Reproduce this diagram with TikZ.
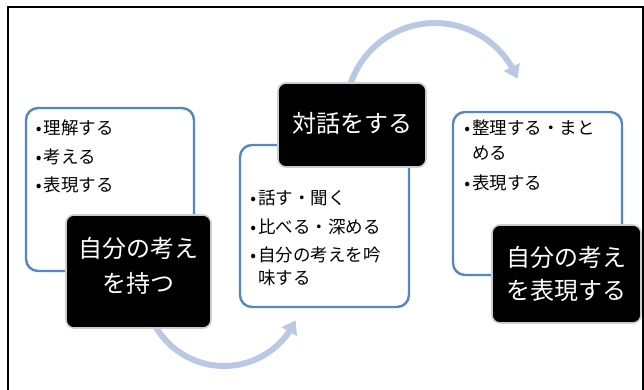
\documentclass[tikz,border=0pt]{standalone}
\usepackage{fontspec}
\setmainfont{Noto Sans CJK JP}
\usetikzlibrary{arrows.meta,bending}
\definecolor{boxblue}{RGB}{85,135,195}
\definecolor{arrowc}{RGB}{185,201,228}
\definecolor{edgegray}{RGB}{205,205,205}
\newcommand{\itembul}{\makebox[10pt][c]{\raisebox{0pt}{\fontsize{17}{17}\selectfont •}}}
\newcommand{\itemind}{\hspace*{10pt}}
\tikzset{
  lightbox/.style={draw=boxblue, line width=2.4pt, rounded corners=12pt, fill=white, inner sep=0pt},
  darkbox/.style={draw=edgegray, line width=1.6pt, rounded corners=8pt, fill=black, inner sep=0pt},
  darktext/.style={text=white, font=\fontsize{24}{35}\selectfont, align=center, inner sep=0pt},
  itemtext/.style={anchor=west, inner sep=0pt, align=left, font=\fontsize{17.5}{24}\selectfont},
  flow/.style={draw=arrowc, line width=6pt, -{Triangle[width=17pt,length=13pt]}},
  frameline/.style={draw=black, line width=2pt},
}
\begin{document}
\begin{tikzpicture}[x=1pt,y=1pt]
\useasboundingbox (0,0) rectangle (644,389);
\draw[frameline] (7.5,-5) -- (7.5,382) -- (643,382) -- (643,-5);
% flow arrows (behind the boxes)
\coordinate (a1s) at (149.8,75);
\coordinate (a2s) at (349,300);
\draw[flow] (a1s) arc[start angle=200, end angle=335, radius=79];
\draw[flow] (a2s) arc[start angle=165, end angle=22, radius=89];
% light boxes
\node[lightbox, minimum width=168pt, minimum height=163pt] (l1) at (110,199.5) {};
\node[lightbox, minimum width=169pt, minimum height=162pt] (l2) at (324.5,163) {};
\node[lightbox, minimum width=169pt, minimum height=163pt] (l3) at (537.5,195.5) {};
% bullet items
\node[itemtext] (i11) at (33.5,261) {\itembul 理解する};
\node[itemtext] (i12) at (33.5,232) {\itembul 考える};
\node[itemtext] (i13) at (33.5,204) {\itembul 表現する};
\node[itemtext] (i21) at (248,191) {\itembul 話す・聞く};
\node[itemtext] (i22) at (248,162) {\itembul 比べる・深める};
\node[itemtext, font=\fontsize{17.5}{23}\selectfont] (i23) at (248,122.5) {\itembul 自分の考えを吟\\\itemind 味する};
\node[itemtext, font=\fontsize{17.5}{25}\selectfont] (i31) at (462,248.5) {\itembul 整理する・まと\\\itemind める};
\node[itemtext] (i32) at (462,206) {\itembul 表現する};
% dark boxes
\node[darkbox, minimum width=145pt, minimum height=113pt] (d1) at (138.5,117.5) {};
\node[darkbox, minimum width=148pt, minimum height=84pt] (d2) at (352,264) {};
\node[darkbox, minimum width=149pt, minimum height=98pt] (d3) at (566.5,115) {};
\node[darktext] (t1) at (138.5,123.5) {自分の考え\\を持つ};
\node[darktext] (t2) at (352,266) {対話をする};
\node[darktext, font=\fontsize{24}{33}\selectfont] (t3) at (566.5,115.5) {自分の考え\\を表現する};
\end{tikzpicture}
\end{document}
